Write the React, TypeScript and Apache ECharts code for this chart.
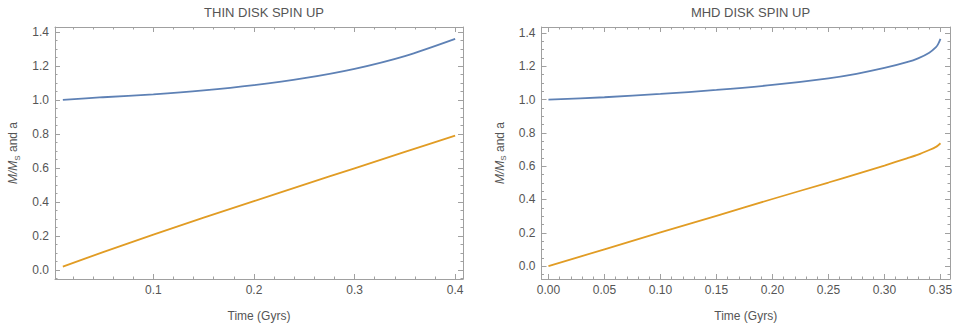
import React, { useEffect, useRef } from "react";
import * as echarts from "echarts";

const thinTime = [0.01, 0.05, 0.1, 0.15, 0.2, 0.25, 0.3, 0.35, 0.4];
const thinMass = [1.0, 1.016, 1.033, 1.056, 1.087, 1.128, 1.183, 1.258, 1.359];
const thinSpin = [0.02, 0.105, 0.208, 0.308, 0.405, 0.502, 0.598, 0.694, 0.79];

const mhdTime = [0, 0.05, 0.1, 0.15, 0.2, 0.25, 0.275, 0.3, 0.32, 0.33, 0.34, 0.346, 0.348, 0.35];
const mhdMass = [1.0, 1.014, 1.034, 1.058, 1.088, 1.128, 1.155, 1.19, 1.225, 1.248, 1.282, 1.315, 1.335, 1.365];
const mhdSpin = [0, 0.101, 0.202, 0.302, 0.403, 0.502, 0.553, 0.604, 0.647, 0.669, 0.697, 0.716, 0.726, 0.738];

const titles = ["THIN DISK SPIN UP", "MHD DISK SPIN UP"];
const xName = "Time (Gyrs)";

const FONT = "Liberation Sans";
const FRAME = "#a0a0a0";
const LABEL = "#555555";
const BLUE = "#5E81B5";
const ORANGE = "#E19C24";

const zip = (xs: number[], ys: number[]) => xs.map((x, i) => [x, ys[i]]);

function fmtFactory(step: number, decimals: number) {
  return (v: number) => {
    const k = Math.round(v / step);
    if (Math.abs(v - k * step) > step * 0.01) return "";
    return (k * step).toFixed(decimals);
  };
}

export default function App() {
  const ref = useRef<HTMLDivElement>(null);
  useEffect(() => {
    if (!ref.current) return;
    const chart = echarts.init(ref.current, undefined, { renderer: "svg" });

    const grids = [
      { left: 55, top: 27, width: 408, height: 252 },
      { left: 541.5, top: 27, width: 408.5, height: 252 },
    ];
    const xr = [
      { min: 0.0022, max: 0.4078, split: 4, step: 0.1, dec: 1 },
      { min: -0.0062, max: 0.3585, split: 7, step: 0.05, dec: 2 },
    ];
    const yr = [
      { min: -0.053, max: 1.429 },
      { min: -0.0775, max: 1.436 },
    ];

    const tickCommon = (minorSplit: number) => ({
      axisLine: { show: true, onZero: false, lineStyle: { color: FRAME, width: 1 } },
      axisTick: { show: true, inside: true, length: 5, lineStyle: { color: FRAME, width: 1 } },
      minorTick: { show: true, splitNumber: minorSplit, length: 2.5, lineStyle: { color: FRAME, width: 1 } },
      splitLine: { show: false },
      minorSplitLine: { show: false },
    });

    const xAxes: any[] = [];
    const yAxes: any[] = [];
    for (let g = 0; g < 2; g++) {
      xAxes.push({
        type: "value",
        gridIndex: g,
        position: "bottom",
        min: xr[g].min,
        max: xr[g].max,
        splitNumber: xr[g].split,
        ...tickCommon(5),
        axisLabel: {
          color: LABEL,
          fontSize: 12,
          fontFamily: FONT,
          margin: 5,
          formatter: fmtFactory(xr[g].step, xr[g].dec),
        },
        name: xName,
        nameLocation: "middle",
        nameGap: 31,
        nameTextStyle: { color: LABEL, fontSize: 12, fontFamily: FONT },
      });
      xAxes.push({
        type: "value",
        gridIndex: g,
        position: "top",
        min: xr[g].min,
        max: xr[g].max,
        splitNumber: xr[g].split,
        ...tickCommon(5),
        axisLabel: { show: false },
      });
      yAxes.push({
        type: "value",
        gridIndex: g,
        position: "left",
        min: yr[g].min,
        max: yr[g].max,
        splitNumber: 7,
        ...tickCommon(4),
        axisLabel: {
          color: LABEL,
          fontSize: 12,
          fontFamily: FONT,
          margin: 6,
          formatter: fmtFactory(0.2, 1),
        },
        name: "{i|M/M}{s|S}{n| and a}",
        nameLocation: "middle",
        nameGap: 34,
        nameTextStyle: {
          color: LABEL,
          fontSize: 12,
          fontFamily: FONT,
          rich: {
            i: { fontStyle: "italic", fontSize: 12, color: LABEL, fontFamily: FONT, lineHeight: 16, verticalAlign: "middle" },
            s: { fontSize: 8, color: LABEL, fontFamily: FONT, lineHeight: 16, verticalAlign: "bottom" },
            n: { fontSize: 12, color: LABEL, fontFamily: FONT, lineHeight: 16, verticalAlign: "middle" },
          },
        },
      });
      yAxes.push({
        type: "value",
        gridIndex: g,
        position: "right",
        min: yr[g].min,
        max: yr[g].max,
        splitNumber: 7,
        ...tickCommon(4),
        axisLabel: { show: false },
      });
    }

    const lineSeries = (g: number, data: number[][], color: string) => ({
      type: "line",
      xAxisIndex: g * 2,
      yAxisIndex: g * 2,
      data,
      smooth: 0.3,
      showSymbol: false,
      symbol: "none",
      lineStyle: { color, width: 1.8 },
      itemStyle: { color },
    });

    chart.setOption({
      animation: false,
      backgroundColor: "#ffffff",
      title: [
        {
          text: titles[0],
          left: 259,
          top: 1,
          textAlign: "center",
          textStyle: { color: LABEL, fontSize: 13, fontWeight: "normal", fontFamily: FONT },
        },
        {
          text: titles[1],
          left: 745.5,
          top: 1,
          textAlign: "center",
          textStyle: { color: LABEL, fontSize: 13, fontWeight: "normal", fontFamily: FONT },
        },
      ],
      grid: grids,
      xAxis: xAxes,
      yAxis: yAxes,
      series: [
        lineSeries(0, zip(thinTime, thinMass), BLUE),
        lineSeries(0, zip(thinTime, thinSpin), ORANGE),
        lineSeries(1, zip(mhdTime, mhdMass), BLUE),
        lineSeries(1, zip(mhdTime, mhdSpin), ORANGE),
      ],
    });
    return () => chart.dispose();
  }, []);

  return (
    <div
      ref={ref}
      style={{ position: "fixed", left: 0, top: 0, width: 956, height: 331, background: "#fff" }}
    />
  );
}
